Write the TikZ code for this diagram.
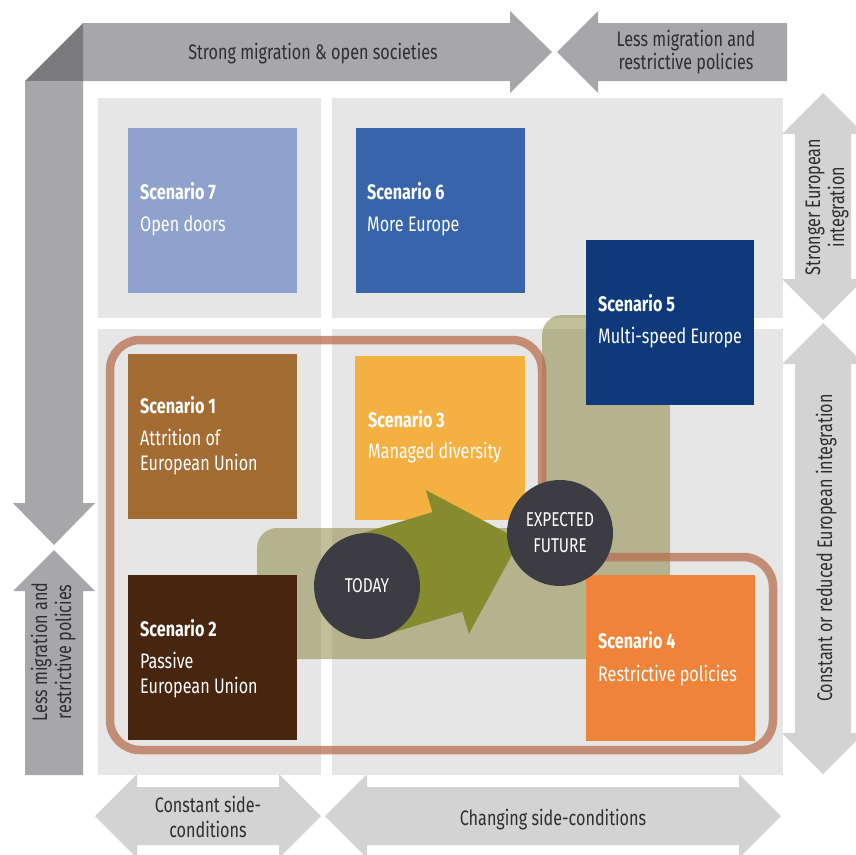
\documentclass[tikz,border=0pt]{standalone}
\usepackage{fontspec}
\setmainfont{Fira Sans}[FakeStretch=0.77]
\definecolor{bardark}{HTML}{A7A6AA}
\definecolor{cornerdark}{HTML}{7B7B7E}
\definecolor{barlight}{HTML}{D3D3D3}
\definecolor{panelgray}{HTML}{E6E6E6}
\definecolor{labeltext}{HTML}{2E2E2E}
\definecolor{scseven}{HTML}{8FA2CD}
\definecolor{scsix}{HTML}{3764AB}
\definecolor{scfive}{HTML}{0E3A7B}
\definecolor{scone}{HTML}{A26C33}
\definecolor{scthree}{HTML}{F5B042}
\definecolor{sctwo}{HTML}{47250F}
\definecolor{scfour}{HTML}{F0833A}
\definecolor{dotgray}{HTML}{3D3C42}
\definecolor{arrowgreen}{HTML}{868B2E}
\definecolor{olivefill}{RGB}{132,130,56}
\definecolor{loopline}{RGB}{184,110,80}
\begin{document}
\begin{tikzpicture}[x=1pt,y=-1pt,
  panel/.style={fill=panelgray},
  scbox/.style={rectangle, draw=none, inner sep=0pt, anchor=north west},
  sctitle/.style={anchor=base west, inner sep=0pt, text=white, font=\bfseries\fontsize{21}{25}\selectfont},
  sctext/.style={anchor=base west, inner sep=0pt, text=white, font=\fontsize{21}{25}\selectfont},
  barlabel/.style={anchor=base, inner sep=0pt, text=labeltext, font=\fontsize{21}{25}\selectfont},
  sidelabel/.style={barlabel, rotate=90},
  dot/.style={circle, fill=dotgray, minimum size=106pt, inner sep=0pt, text=white, align=center, font=\fontsize{20}{26}\selectfont},
]
\path[use as bounding box] (0,0) rectangle (856,854);
\clip (0,0) rectangle (856,854);
\fill[white] (0,0) rectangle (856,854);

% ---- outer direction arrows ----
% top: strong migration (left part with bevelled corner)
\fill[bardark] (83,23) -- (510,23) -- (510,11) -- (552,52) -- (510,93) -- (510,81) -- (83,81) -- cycle;
\fill[cornerdark] (25,81) -- (83,23) -- (83,81) -- cycle;
\fill[bardark] (25,81) -- (83,81) -- (83,503) -- (95,503) -- (54,545) -- (13,503) -- (25,503) -- cycle;
% top right: less migration
\fill[bardark] (557,52) -- (598,11) -- (598,23) -- (787,23) -- (787,81) -- (598,81) -- (598,93) -- cycle;
% left bottom: less migration
\fill[bardark] (54,550) -- (95,591) -- (83,591) -- (83,775) -- (25,775) -- (25,591) -- (13,591) -- cycle;
% right: integration axis
\fill[barlight] (823,93) -- (864,134) -- (851,134) -- (851,279) -- (864,279) -- (823,320) -- (782,279) -- (795,279) -- (795,134) -- (782,134) -- cycle;
\fill[barlight] (823,323) -- (864,364) -- (851,364) -- (851,733) -- (864,733) -- (823,774) -- (782,733) -- (795,733) -- (795,364) -- (782,364) -- cycle;
% bottom: side-conditions
\fill[barlight] (95,816) -- (137,774) -- (137,787) -- (279,787) -- (279,774) -- (321,816) -- (279,858) -- (279,845) -- (137,845) -- (137,858) -- cycle;
\fill[barlight] (325,816) -- (367,774) -- (367,787) -- (739,787) -- (739,774) -- (781,816) -- (739,858) -- (739,845) -- (367,845) -- (367,858) -- cycle;

% ---- quadrant panels ----
\fill[panel] (98,98) rectangle (321,318);
\fill[panel] (332,98) rectangle (783,318);
\fill[panel] (98,329) rectangle (321,775);
\fill[panel] (332,329) rectangle (783,775);

% ---- likely-future area and grouping loop ----
\fill[olivefill, opacity=0.5, rounded corners=20pt] (257,659) -- (257,528) -- (542,528) -- (542,315) -- (670,315) -- (670,659) -- cycle;
\draw[loopline, opacity=0.75, line width=8.5pt, rounded corners=30pt] (110,600) -- (110,340) -- (542,340) -- (542,557) -- (773,557) -- (773,750) -- (110,750) -- cycle;

% ---- scenario boxes ----
\node[scbox, fill=scseven, minimum width=169pt, minimum height=165pt] (s7) at (128,128) {};
\node[scbox, fill=scsix, minimum width=169pt, minimum height=165pt] (s6) at (356,128) {};
\node[scbox, fill=scfive, minimum width=168pt, minimum height=165pt] (s5) at (586,240) {};
\node[scbox, fill=scone, minimum width=169pt, minimum height=165pt] (s1) at (128,354) {};
\node[scbox, fill=scthree, minimum width=170pt, minimum height=164pt] (s3) at (355,356) {};
\node[scbox, fill=sctwo, minimum width=169pt, minimum height=165pt] (s2) at (128,575) {};
\node[scbox, fill=scfour, minimum width=169pt, minimum height=166pt] (s4) at (586,575) {};

% ---- development arrow ----
\fill[arrowgreen] (352.1,536.2) -- (432.5,512.1) -- (425.9,490.1) -- (520.1,540.1) -- (468.9,633.7) -- (462.3,611.7) -- (381.9,635.8) -- cycle;
\node[dot] (today) at (367,586) {TODAY};
\node[dot] (future) at (560,533) {EXPECTED\\FUTURE};

% ---- scenario texts ----
\node[sctitle] (t7) at (140,199) {Scenario 7};
\node[sctext]  (d7) at (140,231) {Open doors};
\node[sctitle] (t6) at (367,199) {Scenario 6};
\node[sctext]  (d6) at (367,231) {More Europe};
\node[sctitle] (t5) at (598,311) {Scenario 5};
\node[sctext]  (d5) at (598,343) {Multi-speed Europe};
\node[sctitle] (t1) at (140,413) {Scenario 1};
\node[sctext]  (d1a) at (140,445) {Attrition of};
\node[sctext]  (d1b) at (140,470) {European Union};
\node[sctitle] (t3) at (368,427) {Scenario 3};
\node[sctext]  (d3) at (368,458) {Managed diversity};
\node[sctitle] (t2) at (140,636) {Scenario 2};
\node[sctext]  (d2a) at (140,668) {Passive};
\node[sctext]  (d2b) at (140,693) {European Union};
\node[sctitle] (t4) at (598,648) {Scenario 4};
\node[sctext]  (d4) at (598,681) {Restrictive policies};

% ---- axis labels ----
\node[barlabel] (lt) at (313,59) {Strong migration \& open societies};
\node[barlabel] (lra) at (686,46) {Less migration and};
\node[barlabel] (lrb) at (686,69) {restrictive policies};
\node[sidelabel] (lla) at (47,652) {Less migration and};
\node[sidelabel] (llb) at (71,652) {restrictive policies};
\node[sidelabel] (lua) at (820,207) {Stronger European};
\node[sidelabel] (lub) at (844,207) {integration};
\node[sidelabel] (lc) at (832,548) {Constant or reduced European integration};
\node[barlabel] (lba) at (208,812) {Constant side-};
\node[barlabel] (lbb) at (208,837) {conditions};
\node[barlabel] (lbc) at (553,825) {Changing side-conditions};
\end{tikzpicture}
\end{document}
